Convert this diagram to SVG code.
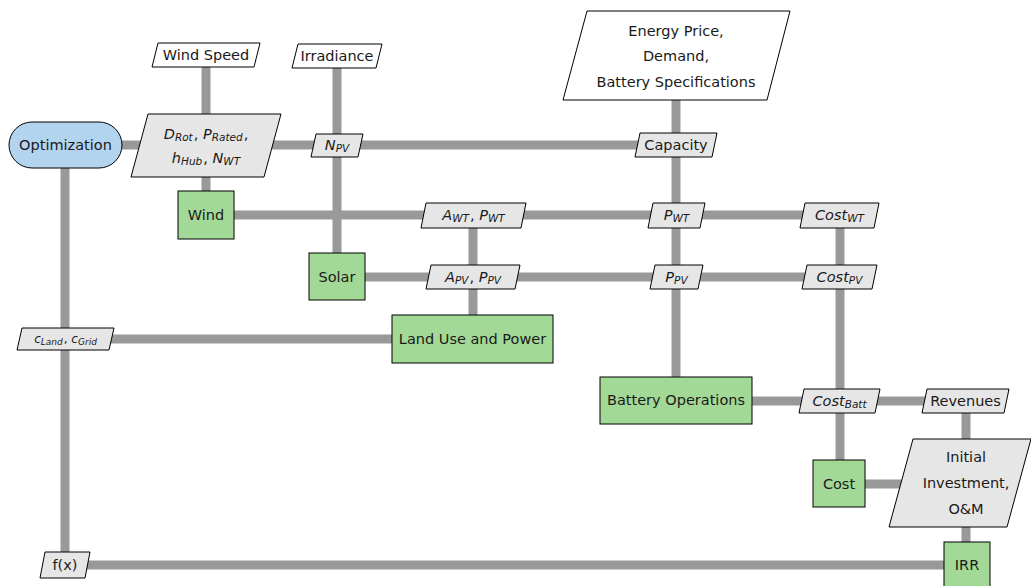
<svg xmlns="http://www.w3.org/2000/svg" width="1031" height="586" viewBox="0 0 1031 586">
  <style>
    .wire { stroke: #999999; stroke-width: 9; fill: none; }
    .io { fill: #ffffff; stroke: #000000; stroke-width: 1; }
    .var { fill: #e6e6e6; stroke: #000000; stroke-width: 1; }
    .proc { fill: #a3d996; stroke: #000000; stroke-width: 1; }
    .start { fill: #b3d4ee; stroke: #000000; stroke-width: 1; }
    text { font-family: "DejaVu Sans", "Liberation Sans", sans-serif; font-size: 14.5px; fill: #1a1a1a; text-anchor: middle; dominant-baseline: central; }
    .m { font-style: italic; }
    .s { font-size: 10.5px; baseline-shift: -3px; }
    .small { font-size: 12px; }
    .small .s { font-size: 9px; }
  </style>
  <rect width="1031" height="586" fill="#ffffff"/>

  <g id="connectors">
    <line class="wire" x1="65" y1="145" x2="676" y2="145"/>
    <line class="wire" x1="206" y1="60" x2="206" y2="200"/>
    <line class="wire" x1="337" y1="60" x2="337" y2="260"/>
    <line class="wire" x1="676" y1="90" x2="676" y2="390"/>
    <line class="wire" x1="206" y1="215" x2="840" y2="215"/>
    <line class="wire" x1="337" y1="277" x2="840" y2="277"/>
    <line class="wire" x1="473" y1="215" x2="473" y2="339"/>
    <line class="wire" x1="840" y1="215" x2="840" y2="484"/>
    <line class="wire" x1="65" y1="339" x2="473" y2="339"/>
    <line class="wire" x1="65" y1="145" x2="65" y2="565"/>
    <line class="wire" x1="676" y1="401" x2="966" y2="401"/>
    <line class="wire" x1="966" y1="401" x2="966" y2="565"/>
    <line class="wire" x1="840" y1="484" x2="960" y2="484"/>
    <line class="wire" x1="65" y1="565" x2="966" y2="565"/>
  </g>

  <g id="optimization">
    <rect class="start" x="9" y="122" width="113" height="46" rx="23" ry="23"/>
    <text x="65.5" y="145">Optimization</text>
  </g>
  <g id="wind-speed">
    <polygon class="io" points="158,43 260,43 254,67 152,67"/>
    <text x="206" y="55">Wind Speed</text>
  </g>
  <g id="irradiance">
    <polygon class="io" points="298,44 382,44 376,68 292,68"/>
    <text x="337" y="56">Irradiance</text>
  </g>
  <g id="turbine-params">
    <polygon class="var" points="148,114 281,114 264,177 131,177"/>
    <text x="206" y="134"><tspan class="m">D</tspan><tspan class="m s">Rot</tspan><tspan dx="1">, </tspan><tspan class="m">P</tspan><tspan class="m s">Rated</tspan><tspan dx="1">,</tspan></text>
    <text x="206" y="158"><tspan class="m">h</tspan><tspan class="m s">Hub</tspan><tspan dx="1">, </tspan><tspan class="m">N</tspan><tspan class="m s">WT</tspan></text>
  </g>
  <g id="n-pv">
    <polygon class="var" points="316,134 363,134 358,157 311,157"/>
    <text x="337" y="145"><tspan class="m">N</tspan><tspan class="m s">PV</tspan></text>
  </g>
  <g id="market-inputs">
    <polygon class="io" points="587,11 790,11 767,100 563,100"/>
    <text x="676" y="31">Energy Price,</text>
    <text x="676" y="56">Demand,</text>
    <text x="676" y="82">Battery Specifications</text>
  </g>
  <g id="capacity">
    <polygon class="var" points="640,133 717,133 712,157 635,157"/>
    <text x="676" y="145">Capacity</text>
  </g>
  <g id="wind">
    <rect class="proc" x="178" y="191" width="56" height="48"/>
    <text x="206" y="215">Wind</text>
  </g>
  <g id="solar">
    <rect class="proc" x="309" y="253" width="56" height="47"/>
    <text x="337" y="277">Solar</text>
  </g>
  <g id="wt-area-power">
    <polygon class="var" points="426,203 526,203 521,228 421,228"/>
    <text x="473.5" y="215"><tspan class="m">A</tspan><tspan class="m s">WT</tspan><tspan dx="1">, </tspan><tspan class="m">P</tspan><tspan class="m s">WT</tspan></text>
  </g>
  <g id="pv-area-power">
    <polygon class="var" points="431,265 520,265 515,289 426,289"/>
    <text x="473" y="277"><tspan class="m">A</tspan><tspan class="m s">PV</tspan><tspan dx="1">, </tspan><tspan class="m">P</tspan><tspan class="m s">PV</tspan></text>
  </g>
  <g id="land-use">
    <rect class="proc" x="392" y="315" width="161" height="48"/>
    <text x="472.5" y="339">Land Use and Power</text>
  </g>
  <g id="p-wt">
    <polygon class="var" points="653,203 705,203 700,228 648,228"/>
    <text x="676.5" y="215"><tspan class="m">P</tspan><tspan class="m s">WT</tspan></text>
  </g>
  <g id="p-pv">
    <polygon class="var" points="655,265 703,265 698,289 650,289"/>
    <text x="676.5" y="277"><tspan class="m">P</tspan><tspan class="m s">PV</tspan></text>
  </g>
  <g id="cost-wt">
    <polygon class="var" points="805,203 879,203 874,228 800,228"/>
    <text x="839.5" y="215"><tspan class="m">Cost</tspan><tspan class="m s">WT</tspan></text>
  </g>
  <g id="cost-pv">
    <polygon class="var" points="807,265 877,265 872,289 802,289"/>
    <text x="839.5" y="277"><tspan class="m">Cost</tspan><tspan class="m s">PV</tspan></text>
  </g>
  <g id="land-grid">
    <polygon class="var" points="22,328 114,328 109,350 17,350"/>
    <text class="small" x="65.5" y="339"><tspan class="m">c</tspan><tspan class="m s">Land</tspan><tspan dx="1">, </tspan><tspan class="m">c</tspan><tspan class="m s">Grid</tspan></text>
  </g>
  <g id="battery-operations">
    <rect class="proc" x="600" y="377" width="152" height="47"/>
    <text x="676" y="400">Battery Operations</text>
  </g>
  <g id="cost-batt">
    <polygon class="var" points="804,389 880,389 875,413 799,413"/>
    <text x="839.5" y="401"><tspan class="m">Cost</tspan><tspan class="m s">Batt</tspan></text>
  </g>
  <g id="revenues">
    <polygon class="var" points="927,389 1009,389 1004,413 922,413"/>
    <text x="965.5" y="401">Revenues</text>
  </g>
  <g id="cost">
    <rect class="proc" x="813" y="460" width="52" height="47"/>
    <text x="839" y="484">Cost</text>
  </g>
  <g id="investment">
    <polygon class="var" points="913,439 1031,439 1007,527 889,527"/>
    <text x="966" y="457">Initial</text>
    <text x="966" y="483">Investment,</text>
    <text x="966" y="509">O&amp;M</text>
  </g>
  <g id="objective">
    <polygon class="var" points="45,552 90,552 85,578 40,578"/>
    <text x="65" y="565">f(x)</text>
  </g>
  <g id="irr">
    <rect class="proc" x="944" y="542" width="46" height="48"/>
    <text x="967" y="565">IRR</text>
  </g>
</svg>
